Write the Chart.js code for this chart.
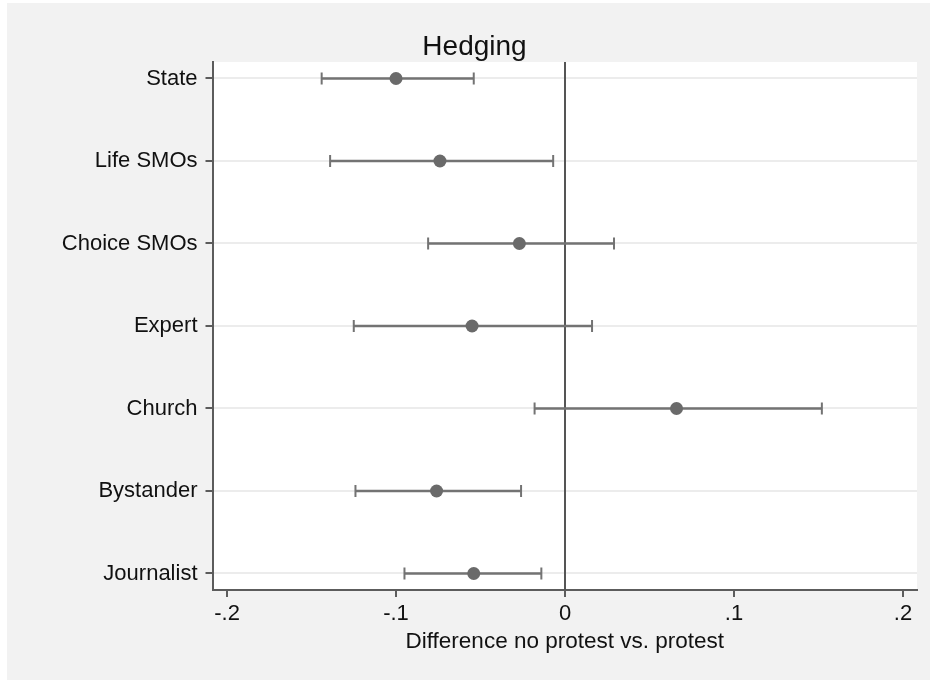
<!DOCTYPE html>
<html>
<head>
<meta charset="utf-8">
<script src="https://cdn.jsdelivr.net/npm/chart.js@4/dist/chart.umd.min.js"></script>
<style>
  html, body { margin: 0; padding: 0; background: #ffffff; }
  #frame { position: absolute; left: 7px; top: 3px; width: 923px; height: 677px; background: #f2f2f2; }
  #frame canvas { display: block; }
</style>
</head>
<body>
<div id="frame"><canvas id="chart" width="923" height="677"></canvas></div>
<script>
// Sources quoted in coverage, top to bottom
const categories = ['State', 'Life SMOs', 'Choice SMOs', 'Expert', 'Church', 'Bystander', 'Journalist'];
// Point estimates: difference no protest vs. protest
const estimates = [-0.100, -0.074, -0.027, -0.055, 0.066, -0.076, -0.054];
// 95% confidence bounds
const lowerBounds = [-0.144, -0.139, -0.081, -0.125, -0.018, -0.124, -0.095];
const upperBounds = [-0.054, -0.007, 0.029, 0.016, 0.152, -0.026, -0.014];
// X axis ticks and their printed labels
const xTickValues = [-0.2, -0.1, 0, 0.1, 0.2];
const xTickLabels = ['-.2', '-.1', '0', '.1', '.2'];
// Reference line at no difference
const referenceValue = 0;

const FONT = "'Liberation Sans', Arial, Helvetica, sans-serif";
const AXIS_GRAY = '#5c5c5c';
const MARK_GRAY = '#737373';
const Y_MIN = -0.2, Y_MAX = 6.2;

// One short line per source for its confidence interval, with vertical caps
const ciDatasets = categories.map((name, i) => ({
  type: 'line',
  label: name + ' CI',
  data: [{ x: lowerBounds[i], y: i }, { x: upperBounds[i], y: i }],
  borderColor: MARK_GRAY,
  borderWidth: 2.3,
  pointStyle: 'line',
  rotation: 90,
  pointRadius: 6,
  pointHoverRadius: 6,
  pointBorderWidth: 2,
  pointBorderColor: MARK_GRAY,
  pointBackgroundColor: MARK_GRAY,
  fill: false,
  tension: 0,
  order: 2
}));

const pointDataset = {
  type: 'scatter',
  label: 'Estimate',
  data: categories.map((_, i) => ({ x: estimates[i], y: i })),
  pointStyle: 'circle',
  pointRadius: 6.5,
  pointHoverRadius: 6.5,
  backgroundColor: '#6a6a6a',
  borderColor: '#6a6a6a',
  borderWidth: 0,
  order: 1
};

// Vertical line at zero, across the whole plot height
const referenceLine = {
  type: 'line',
  label: 'No difference',
  data: [{ x: referenceValue, y: Y_MIN }, { x: referenceValue, y: Y_MAX }],
  borderColor: '#555555',
  borderWidth: 2,
  pointRadius: 0,
  pointHoverRadius: 0,
  fill: false,
  tension: 0,
  order: 3
};

// White plotting region over the grey graph background
const plotBackground = {
  id: 'plotBackground',
  beforeDraw(chart) {
    const { ctx, chartArea } = chart;
    ctx.save();
    ctx.fillStyle = '#ffffff';
    ctx.fillRect(chartArea.left, chartArea.top, chartArea.right - chartArea.left, chartArea.bottom - chartArea.top);
    ctx.restore();
  }
};

new Chart(document.getElementById('chart'), {
  type: 'scatter',
  data: { datasets: [referenceLine, ...ciDatasets, pointDataset] },
  plugins: [plotBackground],
  options: {
    responsive: false,
    animation: false,
    events: [],
    layout: { padding: { left: 13, right: 1, top: 0, bottom: 0 } },
    plugins: {
      legend: { display: false },
      tooltip: { enabled: false },
      title: {
        display: true,
        text: 'Hedging',
        color: '#111111',
        font: { family: FONT, size: 28, weight: 'normal', lineHeight: 1.06 },
        padding: { top: 29, bottom: 0.3 }
      }
    },
    scales: {
      x: {
        type: 'linear',
        min: -0.2086,
        max: 0.2083,
        afterBuildTicks(scale) { scale.ticks = xTickValues.map(v => ({ value: v })); },
        afterFit(scale) { scale.height = 90; },
        ticks: {
          color: '#111111',
          font: { family: FONT, size: 22 },
          padding: 4,
          maxRotation: 0,
          autoSkip: false,
          callback: (value) => {
            const idx = xTickValues.findIndex(v => Math.abs(v - value) < 1e-9);
            return idx >= 0 ? xTickLabels[idx] : '';
          }
        },
        grid: {
          drawOnChartArea: false,
          color: AXIS_GRAY,
          lineWidth: 2,
          tickColor: AXIS_GRAY,
          tickLength: 7,
          tickWidth: 2
        },
        border: { display: true, color: AXIS_GRAY, width: 2 },
        title: {
          display: true,
          text: 'Difference no protest vs. protest',
          color: '#111111',
          font: { family: FONT, size: 22.5, lineHeight: 1.2 },
          padding: { top: 0, bottom: 25 }
        }
      },
      y: {
        type: 'linear',
        reverse: true,
        min: Y_MIN,
        max: Y_MAX,
        afterBuildTicks(scale) { scale.ticks = categories.map((_, i) => ({ value: i })); },
        afterFit(scale) { scale.width = 192.5; },
        ticks: {
          color: '#111111',
          font: { family: FONT, size: 22 },
          padding: 8,
          autoSkip: false,
          callback: (value) => categories[Math.round(value)] ?? ''
        },
        grid: {
          color: '#ececec',
          lineWidth: 2,
          tickColor: AXIS_GRAY,
          tickLength: 7,
          tickWidth: 2
        },
        border: { display: true, color: AXIS_GRAY, width: 2 }
      },
      // Empty margin on the right of the plot region
      gutter: {
        type: 'linear',
        position: 'right',
        display: true,
        afterFit(scale) { scale.width = 12; },
        ticks: { display: false },
        grid: { display: false, drawTicks: false },
        border: { display: false }
      }
    }
  }
});
</script>
</body>
</html>
